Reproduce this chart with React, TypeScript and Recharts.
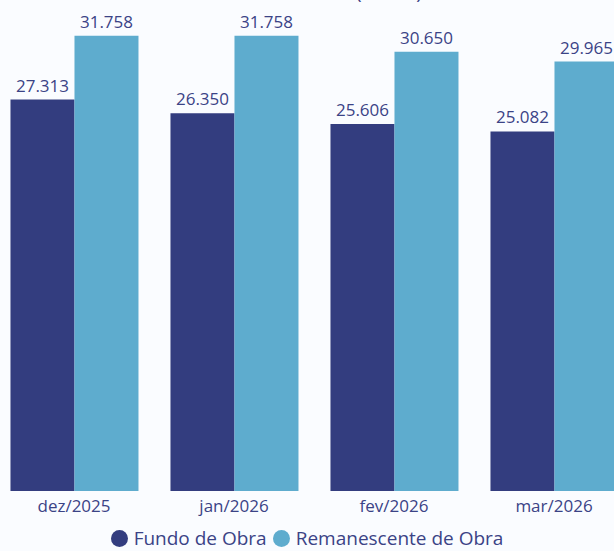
import { BarChart, Bar, XAxis, YAxis, LabelList } from 'recharts'

const meses = ['dez/2025', 'jan/2026', 'fev/2026', 'mar/2026']
const fundoObra = [27313, 26350, 25606, 25082]
const remanescenteObra = [31758, 31758, 30650, 29965]

const DARK = '#333d7f'
const LIGHT = '#5eacce'
const TEXT = '#3b4386'
const FONT = '"Open Sans", "Noto Sans", sans-serif'

const data = meses.map((mes, i) => ({
  mes,
  fundo: fundoObra[i],
  remanescente: remanescenteObra[i],
}))

const fmt = (v: any) => Number(v).toLocaleString('pt-BR')

export default function App() {
  return (
    <div
      style={{
        position: 'absolute',
        left: 0,
        top: 0,
        width: 614,
        height: 551,
        overflow: 'hidden',
        background: '#fafcff',
        fontFamily: FONT,
      }}
    >
      {/* titulo cortado no topo */}
      <div
        style={{
          position: 'absolute',
          left: 356,
          top: -21,
          fontSize: 19,
          color: TEXT,
          whiteSpace: 'nowrap',
        }}
      >
        (R$ mil)
      </div>
      <div style={{ position: 'absolute', left: -6.5, top: -25 }}>
        <BarChart
          width={640}
          height={548}
          data={data}
          margin={{ top: 0, right: 0, bottom: 0, left: 0 }}
          barCategoryGap="10.3%"
          barGap={0}
        >
          <XAxis
            dataKey="mes"
            axisLine={false}
            tickLine={false}
            tickMargin={3}
            height={32}
            tick={{ fill: TEXT, fontSize: 17, fontFamily: FONT }}
          />
          <YAxis hide domain={[0, 36000]} />
          <Bar dataKey="fundo" fill={DARK} isAnimationActive={false}>
            <LabelList
              dataKey="fundo"
              position="top"
              offset={8}
              formatter={fmt}
              style={{ fill: TEXT, fontSize: 17, fontFamily: FONT }}
            />
          </Bar>
          <Bar dataKey="remanescente" fill={LIGHT} isAnimationActive={false}>
            <LabelList
              dataKey="remanescente"
              position="top"
              offset={8}
              formatter={fmt}
              style={{ fill: TEXT, fontSize: 17, fontFamily: FONT }}
            />
          </Bar>
        </BarChart>
      </div>
      <div
        style={{
          position: 'absolute',
          left: 0,
          width: 614,
          top: 527,
          height: 22,
          lineHeight: '22px',
          display: 'flex',
          justifyContent: 'center',
          alignItems: 'center',
          fontSize: 19,
          color: TEXT,
          whiteSpace: 'nowrap',
        }}
      >
        <span style={{ width: 17, height: 17, borderRadius: '50%', background: DARK, display: 'inline-block', marginRight: 6 }} />
        <span style={{ marginRight: 6 }}>Fundo de Obra</span>
        <span style={{ width: 17, height: 17, borderRadius: '50%', background: LIGHT, display: 'inline-block', marginRight: 6 }} />
        <span>Remanescente de Obra</span>
      </div>
    </div>
  )
}
